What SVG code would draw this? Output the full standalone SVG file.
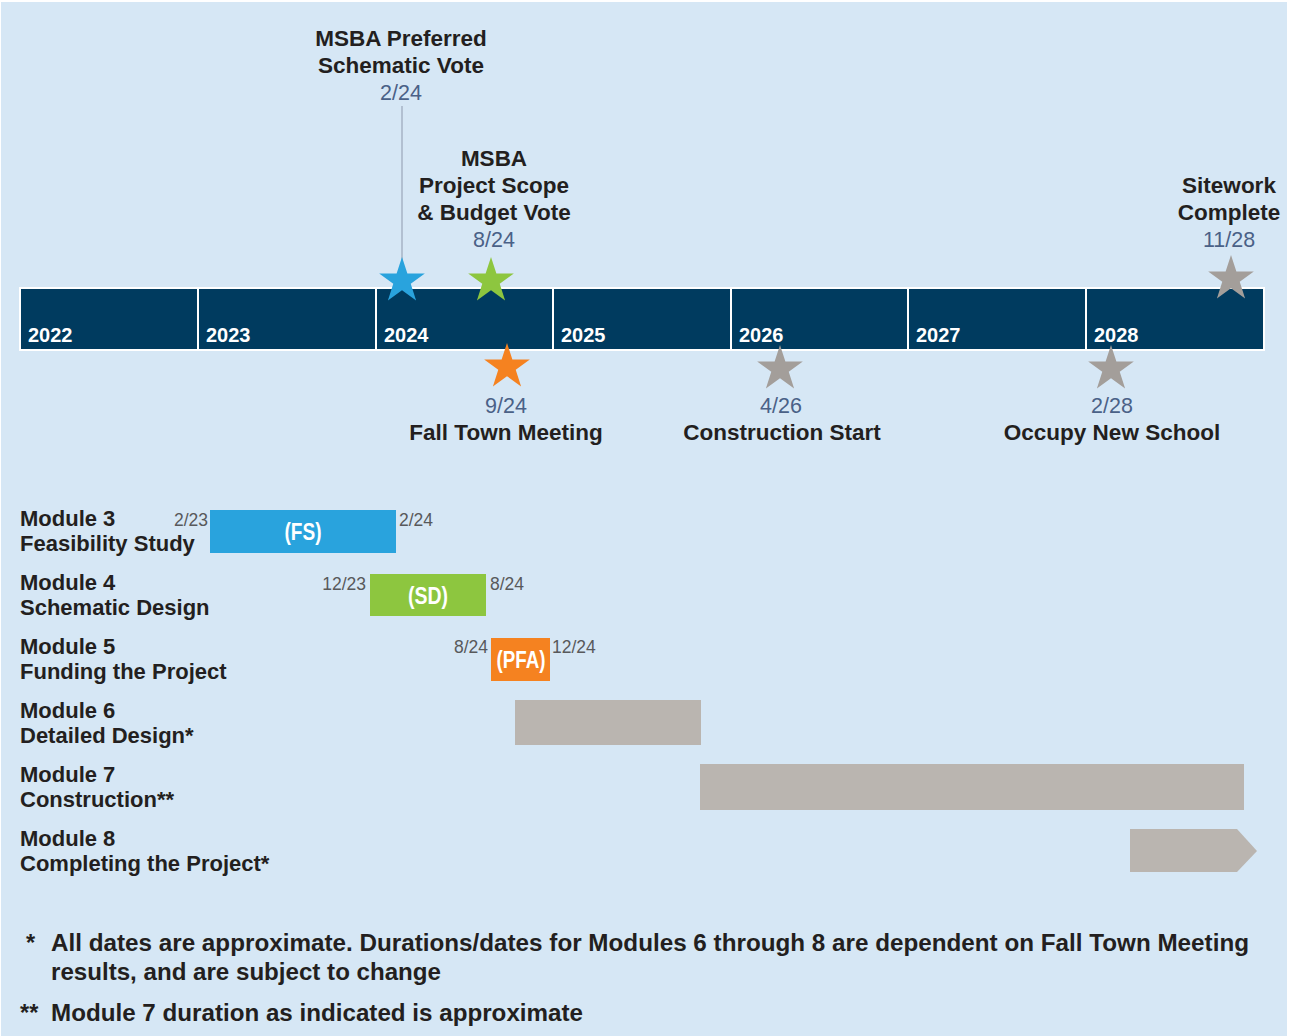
<svg xmlns="http://www.w3.org/2000/svg" xmlns:xlink="http://www.w3.org/1999/xlink" width="1289" height="1036" viewBox="0 0 1289 1036">
<style>
.lbl{font-family:"Liberation Sans",Arial,sans-serif;font-weight:bold;font-size:22.5px;fill:#231f20;text-anchor:middle}
.date{font-family:"Liberation Sans",Arial,sans-serif;font-size:21.5px;fill:#4a6187;text-anchor:middle}
.yr{font-family:"Liberation Sans",Arial,sans-serif;font-weight:bold;font-size:20px;fill:#ffffff}
.mod{font-family:"Liberation Sans",Arial,sans-serif;font-weight:bold;font-size:22px;fill:#231f20}
.sm{font-family:"Liberation Sans",Arial,sans-serif;font-size:17.5px;fill:#58595b}
.bar{font-family:"Liberation Sans",Arial,sans-serif;font-weight:bold;font-size:24px;fill:#ffffff;text-anchor:middle}
.foot{font-family:"Liberation Sans",Arial,sans-serif;font-weight:bold;font-size:23.5px;fill:#231f20}
.div{stroke:#ffffff;stroke-width:2}
</style>
<defs>
<path id="star" d="M0,-24 L5.39,-7.42 L22.83,-7.42 L8.72,2.83 L14.11,19.42 L0,9.17 L-14.11,19.42 L-8.72,2.83 L-22.83,-7.42 L-5.39,-7.42 Z"/>
</defs>
<rect x="0" y="0" width="1289" height="1036" fill="#ffffff"/>
<rect x="1" y="2" width="1286" height="1034" fill="#d6e7f5"/>

<g id="timeline">
<rect x="20" y="288" width="1244" height="62" fill="#003b5f" stroke="#ffffff" stroke-width="2"/>
<line class="div" x1="198" y1="288" x2="198" y2="350"/>
<line class="div" x1="376" y1="288" x2="376" y2="350"/>
<line class="div" x1="553" y1="288" x2="553" y2="350"/>
<line class="div" x1="731" y1="288" x2="731" y2="350"/>
<line class="div" x1="908" y1="288" x2="908" y2="350"/>
<line class="div" x1="1086" y1="288" x2="1086" y2="350"/>
<text class="yr" x="28" y="342">2022</text>
<text class="yr" x="206" y="342">2023</text>
<text class="yr" x="384" y="342">2024</text>
<text class="yr" x="561" y="342">2025</text>
<text class="yr" x="739" y="342">2026</text>
<text class="yr" x="916" y="342">2027</text>
<text class="yr" x="1094" y="342">2028</text>
</g>

<g id="connectors">
<line x1="402" y1="106" x2="402" y2="262" stroke="#a9b7c8" stroke-width="1.6"/>
</g>

<g id="m-schematic-vote">
<use xlink:href="#star" x="402" y="281" fill="#29a3dd"/>
<text class="lbl" x="401" y="46">MSBA Preferred</text>
<text class="lbl" x="401" y="73">Schematic Vote</text>
<text class="date" x="401" y="100">2/24</text>
</g>

<g id="m-budget-vote">
<use xlink:href="#star" x="491" y="281" fill="#8dc63f"/>
<text class="lbl" x="494" y="166">MSBA</text>
<text class="lbl" x="494" y="193">Project Scope</text>
<text class="lbl" x="494" y="220">&amp; Budget Vote</text>
<text class="date" x="494" y="247">8/24</text>
</g>

<g id="m-sitework">
<use xlink:href="#star" x="1231" y="279" fill="#a39e9a"/>
<text class="lbl" x="1229" y="193">Sitework</text>
<text class="lbl" x="1229" y="220">Complete</text>
<text class="date" x="1229" y="247">11/28</text>
</g>

<g id="m-fall-town">
<use xlink:href="#star" x="507" y="367" fill="#f58220"/>
<text class="date" x="506" y="413">9/24</text>
<text class="lbl" x="506" y="440">Fall Town Meeting</text>
</g>

<g id="m-construction">
<use xlink:href="#star" x="780" y="369" fill="#a39e9a"/>
<text class="date" x="781" y="413">4/26</text>
<text class="lbl" x="782" y="440">Construction Start</text>
</g>

<g id="m-occupy">
<use xlink:href="#star" x="1111" y="369" fill="#a39e9a"/>
<text class="date" x="1112" y="413">2/28</text>
<text class="lbl" x="1112" y="440">Occupy New School</text>
</g>

<g id="module3">
<text class="mod" x="20" y="526">Module 3</text>
<text class="mod" x="20" y="551">Feasibility Study</text>
<rect x="210" y="510" width="186" height="43" fill="#29a3dd"/>
<text class="bar" x="303" y="540" textLength="37" lengthAdjust="spacingAndGlyphs">(FS)</text>
<text class="sm" x="208" y="526" text-anchor="end">2/23</text>
<text class="sm" x="399" y="526">2/24</text>
</g>

<g id="module4">
<text class="mod" x="20" y="590">Module 4</text>
<text class="mod" x="20" y="615">Schematic Design</text>
<rect x="370" y="574" width="116" height="42" fill="#8dc63f"/>
<text class="bar" x="428" y="604" textLength="40" lengthAdjust="spacingAndGlyphs">(SD)</text>
<text class="sm" x="366" y="590" text-anchor="end">12/23</text>
<text class="sm" x="490" y="590">8/24</text>
</g>

<g id="module5">
<text class="mod" x="20" y="654">Module 5</text>
<text class="mod" x="20" y="679">Funding the Project</text>
<rect x="491" y="638" width="59" height="43" fill="#f58220"/>
<text class="bar" x="521" y="668" textLength="49" lengthAdjust="spacingAndGlyphs">(PFA)</text>
<text class="sm" x="488" y="653" text-anchor="end">8/24</text>
<text class="sm" x="552" y="653">12/24</text>
</g>

<g id="module6">
<text class="mod" x="20" y="718">Module 6</text>
<text class="mod" x="20" y="743">Detailed Design*</text>
<rect x="515" y="700" width="186" height="45" fill="#bab5b0"/>
</g>

<g id="module7">
<text class="mod" x="20" y="782">Module 7</text>
<text class="mod" x="20" y="807">Construction**</text>
<rect x="700" y="764" width="544" height="46" fill="#bab5b0"/>
</g>

<g id="module8">
<text class="mod" x="20" y="846">Module 8</text>
<text class="mod" x="20" y="871">Completing the Project*</text>
<path d="M1130,829 L1237,829 L1257,851 L1237,872 L1130,872 Z" fill="#bab5b0"/>
</g>

<g id="footnotes">
<text class="foot" x="26" y="951">*</text>
<text class="foot" x="51" y="951" textLength="1198" lengthAdjust="spacingAndGlyphs">All dates are approximate. Durations/dates for Modules 6 through 8 are dependent on Fall Town Meeting</text>
<text class="foot" x="51" y="980" textLength="390" lengthAdjust="spacingAndGlyphs">results, and are subject to change</text>
<text class="foot" x="20" y="1021">**</text>
<text class="foot" x="51" y="1021" textLength="532" lengthAdjust="spacingAndGlyphs">Module 7 duration as indicated is approximate</text>
</g>
</svg>
